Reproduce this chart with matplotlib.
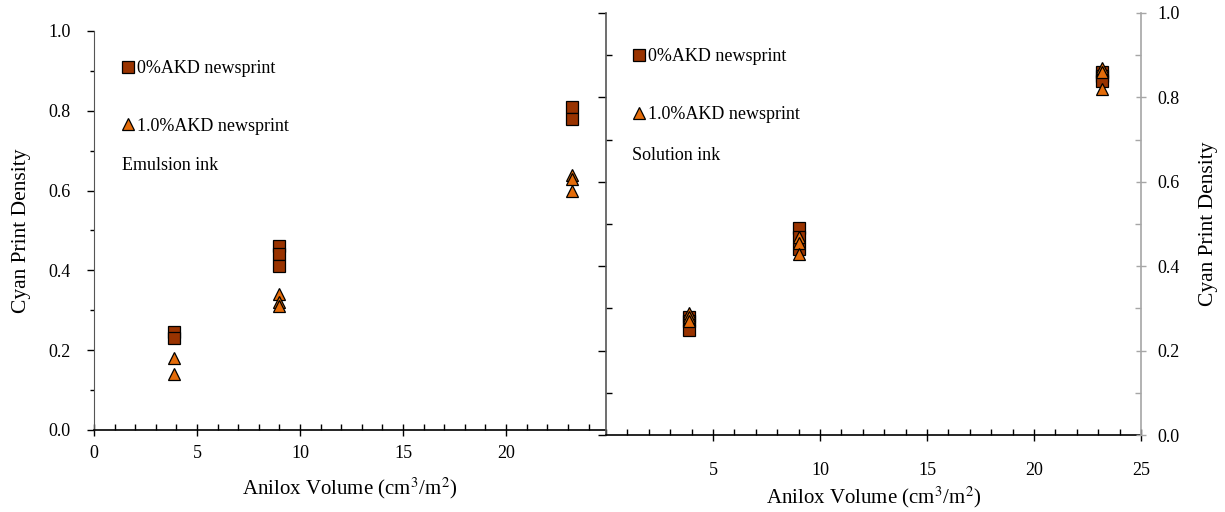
import matplotlib
matplotlib.use("Agg")
from matplotlib import pyplot as plt
from matplotlib.ticker import MultipleLocator

plt.rcParams['font.family'] = ['Liberation Serif', 'DejaVu Serif']
plt.rcParams['mathtext.fontset'] = 'stix'

# Emulsion ink (left panel)
emul_x_0 = [3.9, 3.9, 9.0, 9.0, 9.0, 23.2, 23.2]
emul_y_0 = [0.245, 0.23, 0.46, 0.44, 0.41, 0.81, 0.78]
emul_x_1 = [3.9, 3.9, 9.0, 9.0, 9.0, 23.2, 23.2, 23.2]
emul_y_1 = [0.18, 0.14, 0.34, 0.32, 0.31, 0.64, 0.63, 0.60]

# Solution ink (right panel)
sol_x_0 = [3.9, 3.9, 3.9, 9.0, 9.0, 9.0, 23.2, 23.2, 23.2]
sol_y_0 = [0.28, 0.27, 0.25, 0.49, 0.47, 0.44, 0.86, 0.85, 0.84]
sol_x_1 = [3.9, 3.9, 3.9, 9.0, 9.0, 9.0, 23.2, 23.2, 23.2]
sol_y_1 = [0.29, 0.28, 0.27, 0.47, 0.455, 0.43, 0.87, 0.86, 0.82]

labels = ['0%AKD newsprint', '1.0%AKD newsprint']
xlabel = 'Anilox Volume (cm$^3$/m$^2$)'
ylabel = 'Cyan Print Density'

sq_color = '#993300'
tri_color = '#e46c0a'
gray = '#a6a6a6'
W, H = 1225, 512

fig = plt.figure(figsize=(W / 100, H / 100), dpi=100)
ax_l = fig.add_axes([94 / W, 1 - 430 / H, 511 / W, 399 / H])
ax_r = fig.add_axes([606 / W, 1 - 435 / H, 535 / W, 422 / H])
ax_r.patch.set_alpha(0)


def draw_points(ax, x0, y0, x1, y1):
    ax.plot(x0, y0, ls='none', marker='s', ms=8, mfc=sq_color, mec='black', mew=0.9,
            label=labels[0], zorder=3)
    ax.plot(x1, y1, ls='none', marker='^', ms=8.5, mfc=tri_color, mec='black', mew=0.9,
            label=labels[1], zorder=3)


def style_x(ax, xmax, pad):
    ax.set_xlim(0, xmax)
    ax.xaxis.set_major_locator(MultipleLocator(5))
    ax.xaxis.set_minor_locator(MultipleLocator(1))
    ax.tick_params(axis='x', which='major', direction='inout', length=9, width=1, labelsize=13, pad=pad)
    ax.tick_params(axis='x', which='minor', direction='in', length=4, width=1)
    ax.spines['top'].set_visible(False)
    ax.spines['bottom'].set_linewidth(1.2)


# left panel
draw_points(ax_l, emul_x_0, emul_y_0, emul_x_1, emul_y_1)
style_x(ax_l, 24.8, 6)
ax_l.set_xticks([0, 5, 10, 15, 20])
ax_l.set_ylim(0, 1.0)
ax_l.yaxis.set_major_locator(MultipleLocator(0.2))
ax_l.yaxis.set_minor_locator(MultipleLocator(0.1))
ax_l.yaxis.set_major_formatter('{x:.1f}')
ax_l.tick_params(axis='y', which='major', direction='out', length=5, width=1, labelsize=13, pad=12)
ax_l.tick_params(axis='y', which='minor', direction='out', length=3, width=1)
ax_l.spines['right'].set_visible(False)
ax_l.spines['left'].set_color('#555555')
ax_l.set_xlabel(xlabel, fontsize=15, labelpad=10)
ax_l.set_ylabel(ylabel, fontsize=15.5, labelpad=12)
ax_l.legend(loc='upper left', bbox_to_anchor=(0.041, 0.945), frameon=False, fontsize=13,
            handlelength=0.6, handletextpad=0.2, labelspacing=2.25, borderaxespad=0)
ax_l.text(0.055, 0.664, 'Emulsion ink', transform=ax_l.transAxes, fontsize=13, va='center')

# right panel
draw_points(ax_r, sol_x_0, sol_y_0, sol_x_1, sol_y_1)
style_x(ax_r, 25, 15)
ax_r.set_xticks([5, 10, 15, 20, 25])
ax_r.set_ylim(0, 1.0)
ax_r.yaxis.set_major_locator(MultipleLocator(0.2))
ax_r.yaxis.set_minor_locator(MultipleLocator(0.1))
ax_r.tick_params(axis='y', which='major', direction='out', length=6, width=1, labelleft=False)
ax_r.tick_params(axis='y', which='minor', direction='in', length=4, width=1)
ax_r.spines['right'].set_visible(False)
ax_r.spines['left'].set_color('#555555')
ax_r.spines['left'].set_linewidth(1.2)
ax_r.set_xlabel(xlabel, fontsize=15, labelpad=4)
ax_r.legend(loc='upper left', bbox_to_anchor=(0.038, 0.933), frameon=False, fontsize=13,
            handlelength=0.6, handletextpad=0.2, labelspacing=2.25, borderaxespad=0)
ax_r.text(0.049, 0.663, 'Solution ink', transform=ax_r.transAxes, fontsize=13, va='center')

ax_t = ax_r.twinx()
ax_t.set_ylim(0, 1.0)
ax_t.yaxis.set_major_locator(MultipleLocator(0.2))
ax_t.yaxis.set_minor_locator(MultipleLocator(0.1))
ax_t.yaxis.set_major_formatter('{x:.1f}')
ax_t.tick_params(axis='y', which='major', direction='inout', length=7, width=1, color=gray,
                 labelsize=13, pad=8)
ax_t.tick_params(axis='y', which='minor', direction='in', length=4, width=1, color=gray)
for side in ['top', 'left', 'bottom']:
    ax_t.spines[side].set_visible(False)
ax_t.spines['right'].set_color(gray)
ax_t.spines['right'].set_linewidth(1.2)
ax_t.set_ylabel(ylabel, fontsize=15.5, labelpad=14)

fig.savefig('out.png', dpi=100)
